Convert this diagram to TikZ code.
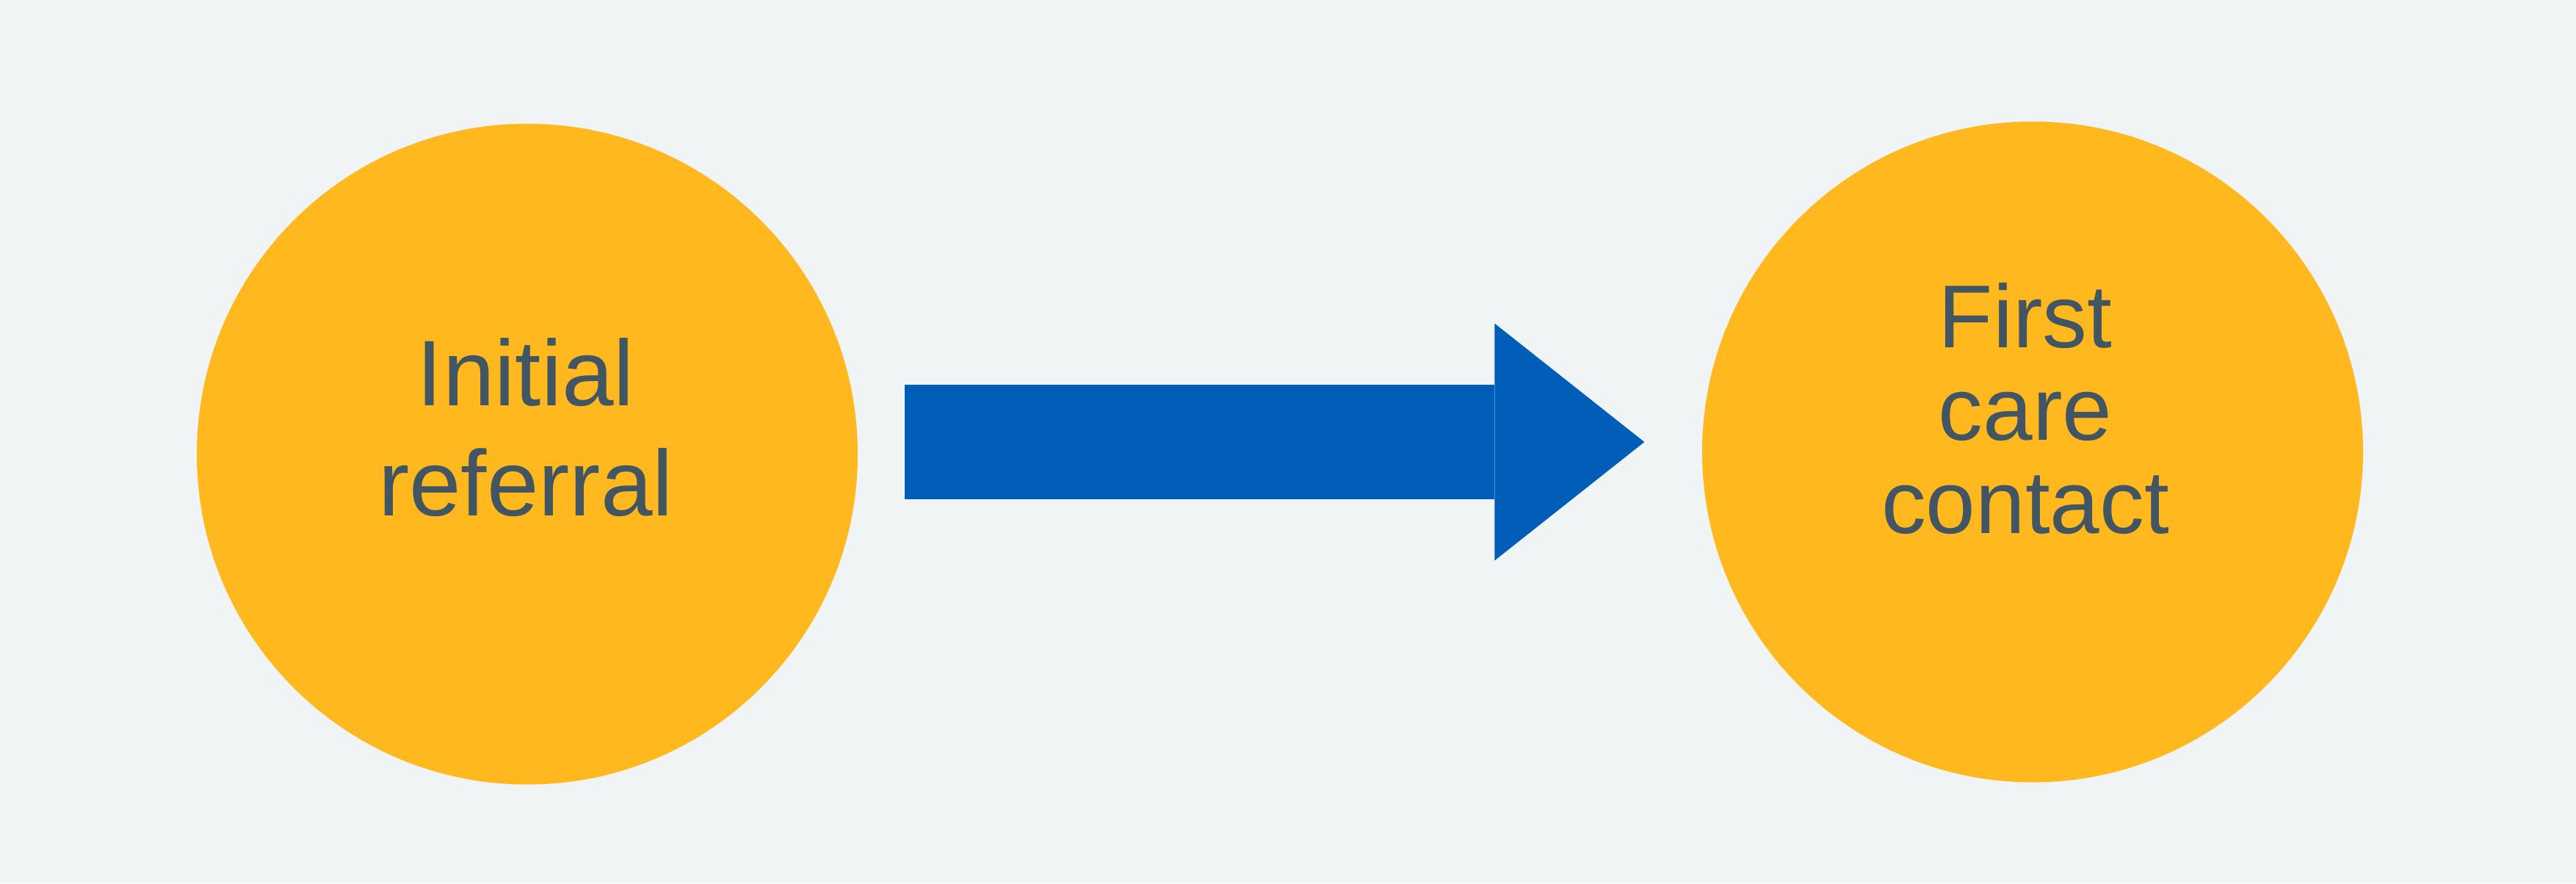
\documentclass[tikz,border=0pt]{standalone}
\usepackage{fontspec}
\setmainfont{Liberation Sans}
\usepackage{xcolor}
\usetikzlibrary{arrows.meta}
\definecolor{paleGrey}{HTML}{F0F4F5}
\definecolor{warmYellow}{HTML}{FFB81E}
\definecolor{flowBlue}{HTML}{005EB8}
\definecolor{darkGrey}{HTML}{425563}

\begin{document}
\begin{tikzpicture}[auto,
    stage/.style={circle, fill=warmYellow, minimum size=9.0cm, inner sep=0pt},
    caption/.style={align=center, text=darkGrey, inner sep=0pt}]
    \useasboundingbox (0,0) rectangle (35.08,12.03);
    \fill [paleGrey] (0,0) rectangle (35.08,12.03);
    \node [stage] (r) at ( 7.18, 5.845) {};
    \node [stage] (f) at (27.68, 5.875) {};
    \node [caption, font=\fontsize{36.1pt}{42.7pt}\selectfont] (rt) at ( 7.16, 6.205) {Initial\\referral};
    \node [caption, font=\fontsize{34.6pt}{36.1pt}\selectfont] (ft) at (27.58, 6.465) {First\\care\\contact};
    \draw [flowBlue, line width=1.56cm, shorten <=0.63cm, shorten >=0.78cm,
           -{Triangle[length=2.04cm, width=3.23cm, line width=0pt]}]
          ([yshift=0.165cm]r.east) -- ([yshift=0.135cm]f.west);
  \end{tikzpicture}
\end{document}
